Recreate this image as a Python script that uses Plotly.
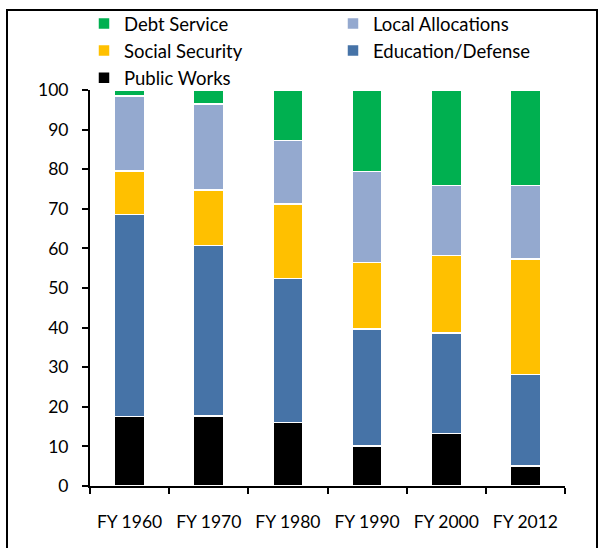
import plotly.graph_objects as go

categories = ["FY 1960", "FY 1970", "FY 1980", "FY 1990", "FY 2000", "FY 2012"]
public_works = [17.5, 17.7, 16.0, 10.1, 13.3, 5.0]
education_defense = [51.1, 43.0, 36.4, 29.6, 25.3, 23.2]
social_security = [11.0, 14.0, 18.8, 16.7, 19.6, 29.1]
local_allocations = [18.9, 21.8, 16.1, 23.0, 17.7, 18.6]
debt_service = [1.5, 3.5, 12.7, 20.6, 24.1, 24.1]

series = [
    ("Public Works", public_works, "#000000"),
    ("Education/Defense", education_defense, "#4673A7"),
    ("Social Security", social_security, "#FFC000"),
    ("Local Allocations", local_allocations, "#94A9CF"),
    ("Debt Service", debt_service, "#00B050"),
]

fig = go.Figure()
for name, vals, color in series:
    fig.add_trace(go.Bar(
        x=categories, y=vals, name=name,
        marker=dict(color=color, line=dict(color="white", width=1.5)),
    ))

W, H = 604, 548
ml, mr, mt, mb = 90, 39, 90, 62
pw, ph = W - ml - mr, H - mt - mb

fig.update_layout(
    width=W, height=H,
    barmode="stack", bargap=0.62,
    margin=dict(l=ml, r=mr, t=mt, b=mb, autoexpand=False),
    paper_bgcolor="white", plot_bgcolor="white",
    font=dict(family="Lato, Open Sans, sans-serif", size=17.5, color="#000000"),
    legend=dict(
        orientation="h", traceorder="reversed",
        x=(84 - ml) / pw, xanchor="left",
        y=1 + (mt - 5) / ph, yanchor="top",
        entrywidth=204, entrywidthmode="pixels",
        font=dict(size=18.5), itemwidth=30,
        bgcolor="rgba(0,0,0,0)",
    ),
    xaxis=dict(
        showline=True, linecolor="black", linewidth=2,
        ticks="outside", tickson="boundaries", ticklen=6, tickwidth=2, tickcolor="black",
        ticklabelstandoff=19, showgrid=False,
    ),
    yaxis=dict(
        range=[0, 100], dtick=10, showline=True, linecolor="black", linewidth=2,
        ticks="outside", ticklen=6, tickwidth=2, tickcolor="black",
        ticklabelstandoff=10, showgrid=False, zeroline=False,
    ),
    shapes=[dict(
        type="rect", xref="paper", yref="paper",
        x0=(7 - ml) / pw, x1=(597 - ml) / pw,
        y0=1 - (552 - mt) / ph, y1=1 + (mt - 10) / ph,
        line=dict(color="black", width=2), fillcolor="rgba(0,0,0,0)", layer="below",
    )],
)

fig.write_html("out.html")
